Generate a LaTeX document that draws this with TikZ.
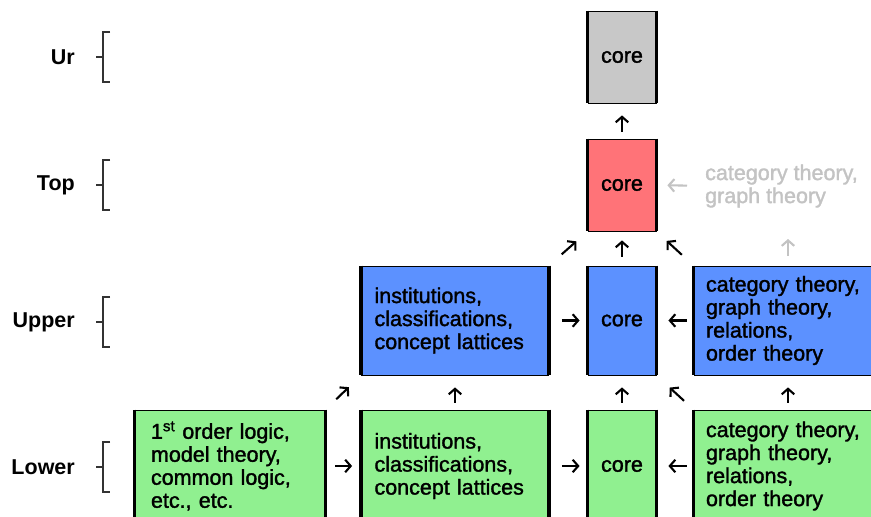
\documentclass[tikz,border=0pt]{standalone}
\usepackage{fontspec}
\setmainfont{Liberation Sans}
\newfontfamily\heavysans{Liberation Sans}[FakeBold=1.5]
\usepackage{xcolor}
\usepackage{tikz}
\usetikzlibrary{arrows.meta}

\definecolor{urgray}{RGB}{200,200,200}
\definecolor{topred}{RGB}{255,115,120}
\definecolor{upblue}{RGB}{92,145,255}
\definecolor{lowgreen}{RGB}{144,240,144}
\definecolor{hintgray}{RGB}{195,195,195}

\newcommand{\boxfont}{\heavysans\fontsize{21.5}{23}\selectfont}

\tikzset{
  box/.style={draw=black, line width=0.8pt, inner xsep=13pt, inner ysep=0pt, align=left, font=\boxfont},
  corebox/.style={box, inner xsep=0pt, minimum width=68pt, minimum height=92pt, align=center},
  widebox/.style={box, text width=161pt},
  hint/.style={text=hintgray, inner sep=0pt, align=left, font=\boxfont},
  levellabel/.style={inner sep=0pt, font=\bfseries\fontsize{21.5}{23}\selectfont},
  bracket/.style={draw=black!80, line width=1.3pt},
  arr/.style={-{Straight Barb[length=5.5pt,width=12.5pt]}, line width=2.1pt}
}

\begin{document}
\begin{tikzpicture}[x=1pt, y=-1pt]
\useasboundingbox (0,0) rectangle (871,517);
\fill[white] (0,0) rectangle (871,517);
\clip (0,0) rectangle (871,517);

% Level labels with brackets
\foreach \y/\lab in {57/Ur,185/Top,322/Upper,467/Lower} {
  \node[levellabel, anchor=east] (lab\lab) at (75,\y) {\lab};
  \draw[bracket] (110,\y-25) -- (103,\y-25) -- (103,\y+25) -- (110,\y+25) (96,\y) -- (103,\y);
}

% Ur and Top cores
\node[corebox, fill=urgray] (urcore) at (622,57) {core};
\node[corebox, fill=topred] (topcore) at (622,185) {core};
\node[hint, anchor=west] (tophint) at (705,186) {category theory,\\graph theory};

% Upper level
\node[widebox, fill=upblue, minimum height=109pt] (upinst) at (455,320.5) {institutions,\\classifications,\\concept lattices};
\node[corebox, fill=upblue, minimum height=109pt] (upcore) at (622,320.5) {core};
\node[widebox, fill=upblue, minimum height=109pt, inner xsep=12pt, text width=164pt] (upcat) at (788,320.5) {category theory,\\graph theory,\\relations,\\order theory};

% Lower level
\node[widebox, fill=lowgreen, minimum height=112pt, inner xsep=16pt, text width=158pt] (lowlogic) at (230,466) {1\textsuperscript{st} order logic,\\model theory,\\common logic,\\etc., etc.};
\node[widebox, fill=lowgreen, minimum height=112pt] (lowinst) at (455,466) {institutions,\\classifications,\\concept lattices};
\node[corebox, fill=lowgreen, minimum height=112pt] (lowcore) at (622,466) {core};
\node[widebox, fill=lowgreen, minimum height=112pt, inner xsep=12pt, text width=164pt] (lowcat) at (788,466) {category theory,\\graph theory,\\relations,\\order theory};

% Heavy side edges on every box
\foreach \b in {urcore,topcore,upinst,upcore,upcat,lowlogic,lowinst,lowcore,lowcat}
  \draw[line width=3.5pt] (\b.north west) -- (\b.south west) (\b.north east) -- (\b.south east);

% Arrows into the cores
\draw[arr, shorten <=7pt, shorten >=12pt] (topcore) -- (urcore);
\draw[arr, shorten <=9pt, shorten >=9pt] (upcore) -- (topcore);
\draw[arr, shorten <=17pt, shorten >=15pt] (upinst.north east) -- (topcore.south west);
\draw[arr, shorten <=16pt, shorten >=14pt] (upcat.north west) -- (topcore.south east);
\draw[arr, draw=hintgray, shorten <=18pt, shorten >=11pt] (tophint.west) -- (topcore.east);
\coordinate (hinttip) at (788,239);
\draw[arr, draw=hintgray, shorten <=10pt] (upcat.north) -- (hinttip);

% Upper level arrows
\draw[arr, shorten <=13pt, shorten >=8pt] (upinst) -- (upcore);
\draw[arr, shorten <=7pt, shorten >=12pt] (upcat) -- (upcore);

% Lower to upper
\draw[arr, shorten <=15pt, shorten >=17pt] (lowlogic.north east) -- (upinst.south west);
\draw[arr, shorten <=7pt, shorten >=12pt] (lowinst) -- (upinst);
\draw[arr, shorten <=7pt, shorten >=12pt] (lowcore) -- (upcore);
\draw[arr, shorten <=13pt, shorten >=18pt] (lowcat.north west) -- (upcore.south east);
\draw[arr, shorten <=7pt, shorten >=12pt] (lowcat.north) -- (upcat.south);

% Lower level arrows
\draw[arr, shorten <=10pt, shorten >=9pt] (lowlogic) -- (lowinst);
\draw[arr, shorten <=13pt, shorten >=8pt] (lowinst) -- (lowcore);
\draw[arr, shorten <=7pt, shorten >=12pt] (lowcat) -- (lowcore);
\end{tikzpicture}
\end{document}
